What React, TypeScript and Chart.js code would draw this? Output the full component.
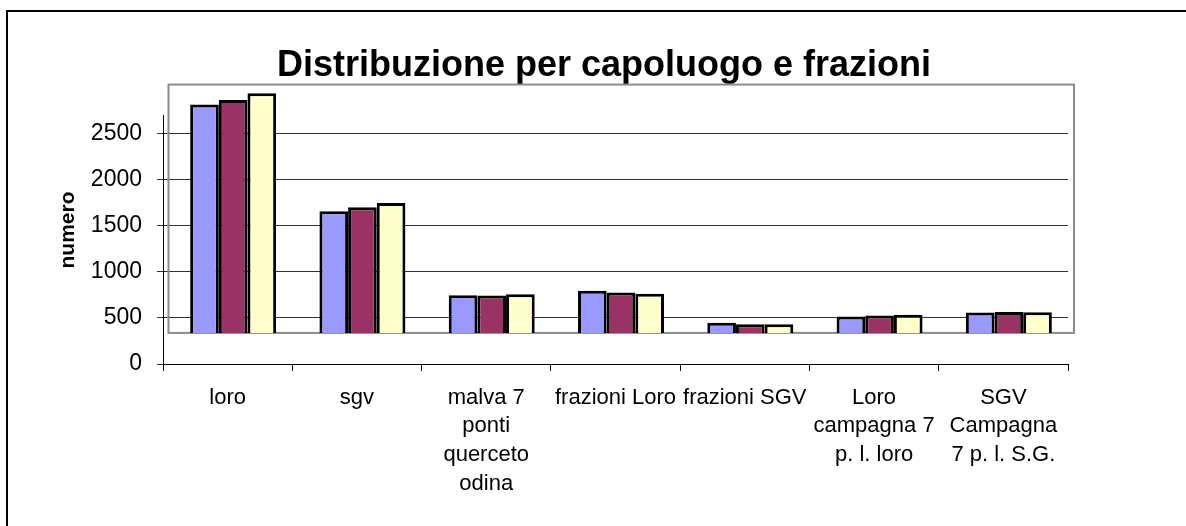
import React, { useEffect, useRef } from "react";
import { Chart, registerables } from "chart.js";

Chart.register(...registerables);

const TITLE = "Distribuzione per capoluogo e frazioni";
const Y_TITLE = "numero";
const categories: string[][] = [
  ["loro"],
  ["sgv"],
  ["malva 7", "ponti", "querceto", "odina"],
  ["frazioni Loro"],
  ["frazioni SGV"],
  ["Loro", "campagna 7", "p. l. loro"],
  ["SGV", "Campagna", "7 p. l. S.G."],
];
const series1 = [2815, 1655, 746, 793, 446, 514, 558];
const series2 = [2862, 1699, 742, 775, 431, 525, 565];
const series3 = [2935, 1746, 757, 761, 431, 533, 562];
const seriesNames = ["Serie1", "Serie2", "Serie3"];
const seriesColors = ["#9999FF", "#993366", "#FFFFCC"];
const yTickValues = [0, 500, 1000, 1500, 2000, 2500];
const Y_MAX = 2700;
const BAR_BASE = 337;
const FLOOR_TOP_VALUE = 3030;

const FONT = "'Liberation Sans', Arial, Helvetica, sans-serif";

export default function App() {
  const ref = useRef<HTMLCanvasElement | null>(null);

  useEffect(() => {
    if (!ref.current) return;

    const decor = {
      id: "decor",
      beforeDraw(chart: any) {
        const { ctx } = chart;
        ctx.save();
        ctx.strokeStyle = "#000";
        ctx.lineWidth = 2;
        ctx.beginPath();
        ctx.moveTo(7, 526);
        ctx.lineTo(7, 11);
        ctx.lineTo(1186, 11);
        ctx.stroke();
        ctx.restore();
      },
      beforeDatasetsDraw(chart: any) {
        const { ctx, chartArea, scales } = chart;
        const y = scales.y;
        const top = y.getPixelForValue(FLOOR_TOP_VALUE);
        const bottom = y.getPixelForValue(BAR_BASE);
        ctx.save();
        ctx.strokeStyle = "#8c8c8c";
        ctx.lineWidth = 2;
        ctx.strokeRect(chartArea.left + 5.5, top, chartArea.right - chartArea.left + 0.5, bottom - top);
        ctx.restore();
        ctx.save();
        ctx.translate(5.5, 0);
      },
      afterDatasetsDraw(chart: any) {
        chart.ctx.restore();
      },
      afterDraw(chart: any) {
        const { ctx } = chart;
        ctx.save();
        ctx.translate(68, 230);
        ctx.rotate(-Math.PI / 2);
        ctx.font = `bold 21px ${FONT}`;
        ctx.fillStyle = "#000";
        ctx.textAlign = "center";
        ctx.textBaseline = "middle";
        ctx.fillText(Y_TITLE, 0, 0);
        ctx.restore();
      },
    };

    const mk = (i: number, data: number[]) => ({
      label: seriesNames[i],
      data,
      backgroundColor: seriesColors[i],
      borderColor: "#000",
      borderWidth: 3,
      base: BAR_BASE,
      clip: false as any,
    });

    const chart = new Chart(ref.current, {
      type: "bar",
      data: {
        labels: categories as any,
        datasets: [mk(0, series1), mk(1, series2), mk(2, series3)],
      },
      plugins: [decor],
      options: {
        animation: false,
        responsive: false,
        maintainAspectRatio: false,
        layout: { padding: { left: 22, right: 0, top: 0, bottom: 0 } },
        datasets: {
          bar: { categoryPercentage: 0.665, barPercentage: 1 },
        },
        plugins: {
          legend: { display: false },
          tooltip: { enabled: false },
          title: {
            display: true,
            text: TITLE,
            color: "#000",
            font: { family: FONT, size: 36, weight: "bold", lineHeight: 1.2 },
            padding: { top: 44.4, bottom: 27.4 },
          },
        },
        scales: {
          x: {
            type: "category",
            offset: true,
            grid: {
              offset: true,
              drawOnChartArea: false,
              drawTicks: true,
              tickLength: 7,
              color: "#000",
              lineWidth: 1,
            },
            border: { display: true, color: "#000", width: 1 },
            ticks: {
              color: "#000",
              font: { family: FONT, size: 22, lineHeight: 1.3 },
              padding: 12.5,
              autoSkip: false,
              maxRotation: 0,
              minRotation: 0,
            },
            afterFit: (s: any) => {
              s.height = 162;
            },
          },
          y: {
            type: "linear",
            min: 0,
            max: Y_MAX,
            afterBuildTicks: (s: any) => {
              s.ticks = yTickValues.map((v) => ({ value: v }));
            },
            grid: {
              color: "#333",
              lineWidth: 1,
              drawTicks: true,
              tickLength: 6,
            },
            border: { display: true, color: "#000", width: 1 },
            ticks: {
              color: "#000",
              font: { family: FONT, size: 23 },
              padding: 15,
              callback: (v: any) => String(v),
            },
            title: { display: false },
            afterFit: (s: any) => {
              s.width = 141;
            },
          },
          y2: {
            type: "linear",
            position: "right",
            display: true,
            grid: { display: false, drawTicks: false },
            border: { display: false },
            ticks: { display: false },
            afterFit: (s: any) => {
              s.width = 118;
            },
          },
        },
      },
    });

    return () => chart.destroy();
  }, []);

  return (
    <div style={{ position: "absolute", left: 0, top: 0, width: 1186, height: 526, background: "#fff" }}>
      <canvas ref={ref} width={1186} height={526} style={{ width: 1186, height: 526, display: "block" }} />
    </div>
  );
}
